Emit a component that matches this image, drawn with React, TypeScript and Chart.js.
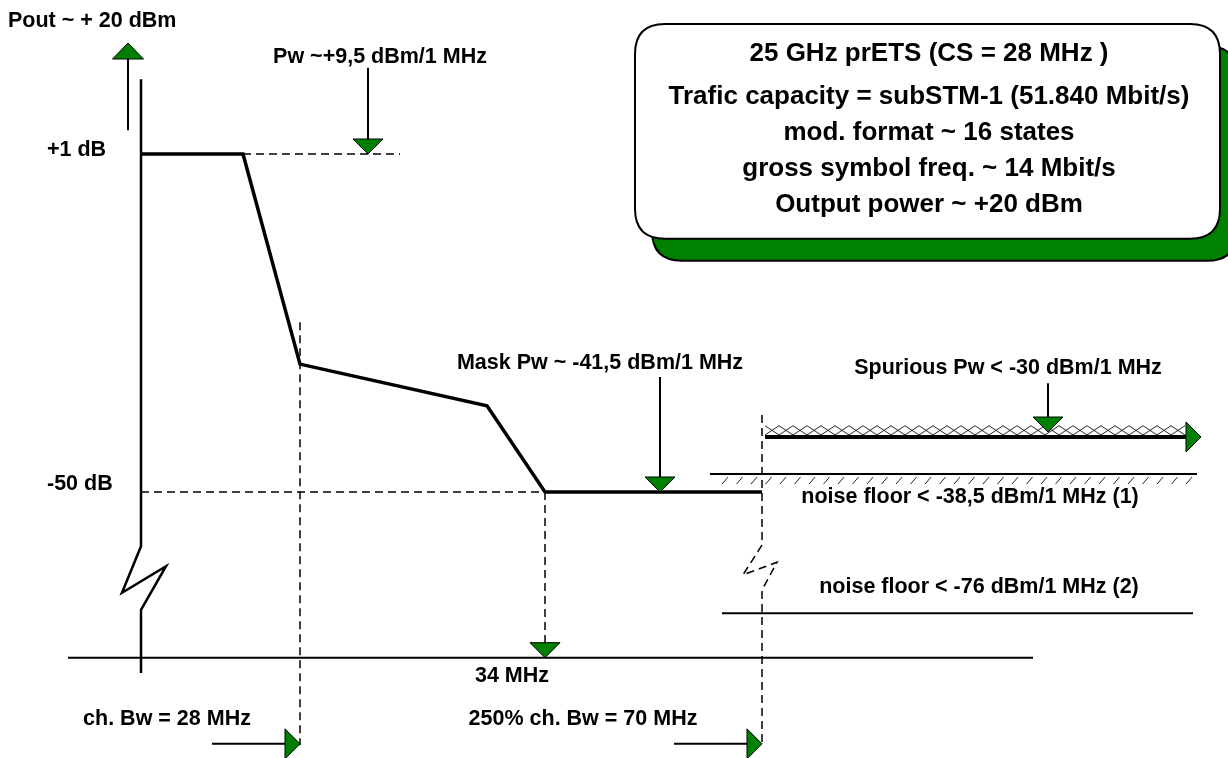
import React, { useEffect, useRef } from "react";
import { Chart, registerables } from "chart.js";

Chart.register(...registerables);

// Schematic spectrum-mask diagram. x: schematic frequency offset (carrier = 0), y: relative level in dB
const X_MIN = -14.1;
const X_MAX = 108.7;
const Y_MIN = -90.14;
const Y_MAX = 24.24;

// Spectrum mask
const maskX = [0, 10.2, 15.9, 34.6, 40.4, 62.1];
const maskY = [1, 1, -30.7, -37, -50, -50];

// Power axis with break symbol
const powerAxisX = [0, 0, -1.9, 2.5, 0, 0];
const powerAxisY = [12.3, -58.2, -65.2, -61.2, -67.8, -77.3];

// Frequency axis
const baselineX = [-7.3, 89.2];
const baselineLevel = -75;

// Spurious limit, noise floors
const spuriousX = [62.4, 104.6];
const spuriousLevel = -41.7;
const spuriousHatchTop = -40.0;
const noiseFloor1X = [56.9, 105.6];
const noiseFloor1Level = -47.3;
const noiseFloor2X = [58.1, 105.2];
const noiseFloor2Level = -68.3;

// Dashed guide lines
const guidePlus1X = [10.2, 25.9];
const guidePlus1Y = [1, 1];
const guideMinus50X = [0, 40.4];
const guideMinus50Y = [-50, -50];
const guideChBwX = [15.9, 15.9];
const guideChBwY = [-24.4, -88.2];
const guide70X = [62.1, 62.1, 60.2, 63.6, 62.1, 62.1];
const guide70Y = [-38.4, -58.0, -62.5, -60.6, -64.8, -88.2];
const guide34X = [40.4, 40.4];
const guide34Y = [-50, -72.8];

// Labels
const labelText = [
  "Pout ~ + 20 dBm",
  "+1 dB",
  "-50 dB",
  "Pw ~+9,5 dBm/1 MHz",
  "Mask Pw ~ -41,5 dBm/1 MHz",
  "Spurious Pw < -30 dBm/1 MHz",
  "noise floor < -38,5 dBm/1 MHz (1)",
  "noise floor < -76 dBm/1 MHz (2)",
  "34 MHz",
  "ch. Bw = 28 MHz",
  "250% ch. Bw = 70 MHz",
];
const labelX = [-13.3, -9.4, -9.4, 23.9, 45.9, 86.7, 82.9, 83.8, 37.1, 2.6, 44.2];
const labelY = [21.1, 1.6, -48.8, 15.6, -30.5, -31.3, -50.8, -64.3, -77.8, -84.3, -84.3];
const labelAlign = ["left", "left", "left", "center", "center", "center", "center", "center", "center", "center", "center"];

// Arrows: tip position, shaft start (null = no shaft), direction
const arrowTipX = [-1.3, 22.7, 51.9, 90.7, 40.4, 106.0, 15.9, 62.1];
const arrowTipY = [17.75, 1, -50, -40.95, -75, -41.7, -88.0, -88.0];
const arrowFromX = [-1.3, 22.7, 51.9, 90.7, null, null, 7.1, 53.3];
const arrowFromY = [4.6, 14.0, -32.65, -33.6, null, null, -88.0, -88.0];
const arrowDir = ["up", "down", "down", "down", "down", "right", "right", "right"];

// Info box
const boxX = [49.4, 107.9];
const boxY = [20.6, -11.8];
const boxCenterX = 78.8;
const boxLines = [
  "25 GHz prETS (CS = 28 MHz )",
  "Trafic capacity = subSTM-1 (51.840 Mbit/s)",
  "mod. format ~ 16 states",
  "gross symbol freq. ~ 14 Mbit/s",
  "Output power ~ +20 dBm",
];
const boxLineY = [16.1, 9.6, 4.2, -1.2, -6.6];

const FONT = "bold 21.5px 'Liberation Sans', Arial, sans-serif";
const BOX_FONT = "bold 26px 'Liberation Sans', Arial, sans-serif";
const GREEN = "#008000";

const pts = (xs: number[], ys: number[]) => xs.map((x, i) => ({ x, y: ys[i] }));

function roundRect(ctx: CanvasRenderingContext2D, x: number, y: number, w: number, h: number, r: number) {
  ctx.beginPath();
  ctx.moveTo(x + r, y);
  ctx.lineTo(x + w - r, y);
  ctx.quadraticCurveTo(x + w, y, x + w, y + r);
  ctx.lineTo(x + w, y + h - r);
  ctx.quadraticCurveTo(x + w, y + h, x + w - r, y + h);
  ctx.lineTo(x + r, y + h);
  ctx.quadraticCurveTo(x, y + h, x, y + h - r);
  ctx.lineTo(x, y + r);
  ctx.quadraticCurveTo(x, y, x + r, y);
  ctx.closePath();
}

const decorPlugin = {
  id: "decor",
  afterDatasetsDraw(chart: any) {
    const ctx: CanvasRenderingContext2D = chart.ctx;
    const xs = chart.scales.x;
    const ys = chart.scales.y;
    const px = (v: number) => xs.getPixelForValue(v);
    const py = (v: number) => ys.getPixelForValue(v);
    ctx.save();

    // Cross hatch above spurious limit
    {
      const x0 = px(spuriousX[0]);
      const x1 = px(spuriousX[1]);
      const yb = py(spuriousLevel) - 2;
      const yt = py(spuriousHatchTop);
      const step = 14;
      ctx.strokeStyle = "#222";
      ctx.lineWidth = 1;
      ctx.beginPath();
      for (let x = x0; x + step <= x1 + 1; x += step) {
        ctx.moveTo(x, yb);
        ctx.lineTo(x + step, yt);
        ctx.moveTo(x, yt);
        ctx.lineTo(x + step, yb);
      }
      ctx.stroke();
    }

    // Hatch below noise floor (1)
    {
      const x0 = px(noiseFloor1X[0]) + 12;
      const x1 = px(noiseFloor1X[1]) - 2;
      const y = py(noiseFloor1Level);
      ctx.strokeStyle = "#222";
      ctx.lineWidth = 1;
      ctx.beginPath();
      for (let x = x0; x <= x1 - 6; x += 14.5) {
        ctx.moveTo(x, y + 10);
        ctx.lineTo(x + 6, y + 3);
      }
      ctx.stroke();
    }

    // Arrows
    for (let i = 0; i < arrowTipX.length; i++) {
      const tx = px(arrowTipX[i]);
      const ty = py(arrowTipY[i]);
      const dir = arrowDir[i];
      const w = dir === "up" ? 15.5 : 15;
      const h = dir === "up" ? 16 : 15;
      let base: [number, number];
      let tri: [number, number][];
      if (dir === "up") {
        base = [tx, ty + h];
        tri = [[tx - w, ty + h], [tx + w, ty + h], [tx, ty]];
      } else if (dir === "down") {
        base = [tx, ty - h];
        tri = [[tx - w, ty - h], [tx + w, ty - h], [tx, ty]];
      } else {
        base = [tx - h, ty];
        tri = [[tx - h, ty - w], [tx - h, ty + w], [tx, ty]];
      }
      const fx = arrowFromX[i];
      const fy = arrowFromY[i];
      if (fx !== null && fy !== null) {
        ctx.strokeStyle = "#000";
        ctx.lineWidth = 2;
        ctx.beginPath();
        ctx.moveTo(px(fx as number), py(fy as number));
        ctx.lineTo(base[0], base[1]);
        ctx.stroke();
      }
      ctx.beginPath();
      ctx.moveTo(tri[0][0], tri[0][1]);
      ctx.lineTo(tri[1][0], tri[1][1]);
      ctx.lineTo(tri[2][0], tri[2][1]);
      ctx.closePath();
      ctx.fillStyle = GREEN;
      ctx.fill();
      ctx.strokeStyle = "#000";
      ctx.lineWidth = 1;
      ctx.stroke();
    }

    // Info box with green shadow
    {
      const bx = px(boxX[0]);
      const by = py(boxY[0]);
      const bw = px(boxX[1]) - bx;
      const bh = py(boxY[1]) - by;
      roundRect(ctx, bx + 17, by + 22, bw, bh, 30);
      ctx.fillStyle = GREEN;
      ctx.fill();
      ctx.strokeStyle = "#000";
      ctx.lineWidth = 2;
      ctx.stroke();
      roundRect(ctx, bx, by, bw, bh, 30);
      ctx.fillStyle = "#fff";
      ctx.fill();
      ctx.stroke();
      ctx.fillStyle = "#000";
      ctx.font = BOX_FONT;
      ctx.textAlign = "center";
      ctx.textBaseline = "middle";
      boxLines.forEach((t, i) => ctx.fillText(t, px(boxCenterX), py(boxLineY[i])));
    }

    // Labels
    ctx.fillStyle = "#000";
    ctx.font = FONT;
    ctx.textBaseline = "middle";
    labelText.forEach((t, i) => {
      ctx.textAlign = labelAlign[i] as CanvasTextAlign;
      ctx.fillText(t, px(labelX[i]), py(labelY[i]));
    });

    ctx.restore();
  },
};

export default function App() {
  const ref = useRef<HTMLCanvasElement | null>(null);
  useEffect(() => {
    document.body.style.margin = "0";
    const canvas = ref.current;
    if (!canvas) return;
    const solid = (data: any[], width: number) => ({
      data,
      borderColor: "#000",
      borderWidth: width,
      showLine: true,
      pointRadius: 0,
      fill: false,
      tension: 0,
      borderJoinStyle: "miter" as const,
    });
    const dashed = (data: any[]) => ({
      data,
      borderColor: "#000",
      borderWidth: 1.5,
      borderDash: [8, 5],
      showLine: true,
      pointRadius: 0,
      fill: false,
      tension: 0,
    });
    const chart = new Chart(canvas, {
      type: "scatter",
      data: {
        datasets: [
          dashed(pts(guidePlus1X, guidePlus1Y)),
          dashed(pts(guideMinus50X, guideMinus50Y)),
          dashed(pts(guideChBwX, guideChBwY)),
          dashed(pts(guide70X, guide70Y)),
          dashed(pts(guide34X, guide34Y)),
          solid(pts(baselineX, baselineX.map(() => baselineLevel)), 2),
          solid(pts(powerAxisX, powerAxisY), 2.5),
          solid(pts(noiseFloor1X, noiseFloor1X.map(() => noiseFloor1Level)), 2),
          solid(pts(noiseFloor2X, noiseFloor2X.map(() => noiseFloor2Level)), 2),
          solid(pts(spuriousX, spuriousX.map(() => spuriousLevel)), 4),
          solid(pts(maskX, maskY), 3.5),
        ] as any,
      },
      options: {
        animation: false,
        responsive: false,
        maintainAspectRatio: false,
        layout: { padding: 0 },
        plugins: { legend: { display: false }, tooltip: { enabled: false } },
        scales: {
          x: { type: "linear", min: X_MIN, max: X_MAX, display: false },
          y: { type: "linear", min: Y_MIN, max: Y_MAX, display: false },
        },
      },
      plugins: [decorPlugin],
    });
    return () => chart.destroy();
  }, []);
  return (
    <div style={{ width: 1228, height: 758, background: "#fff" }}>
      <canvas ref={ref} width={1228} height={758} style={{ display: "block" }} />
    </div>
  );
}
